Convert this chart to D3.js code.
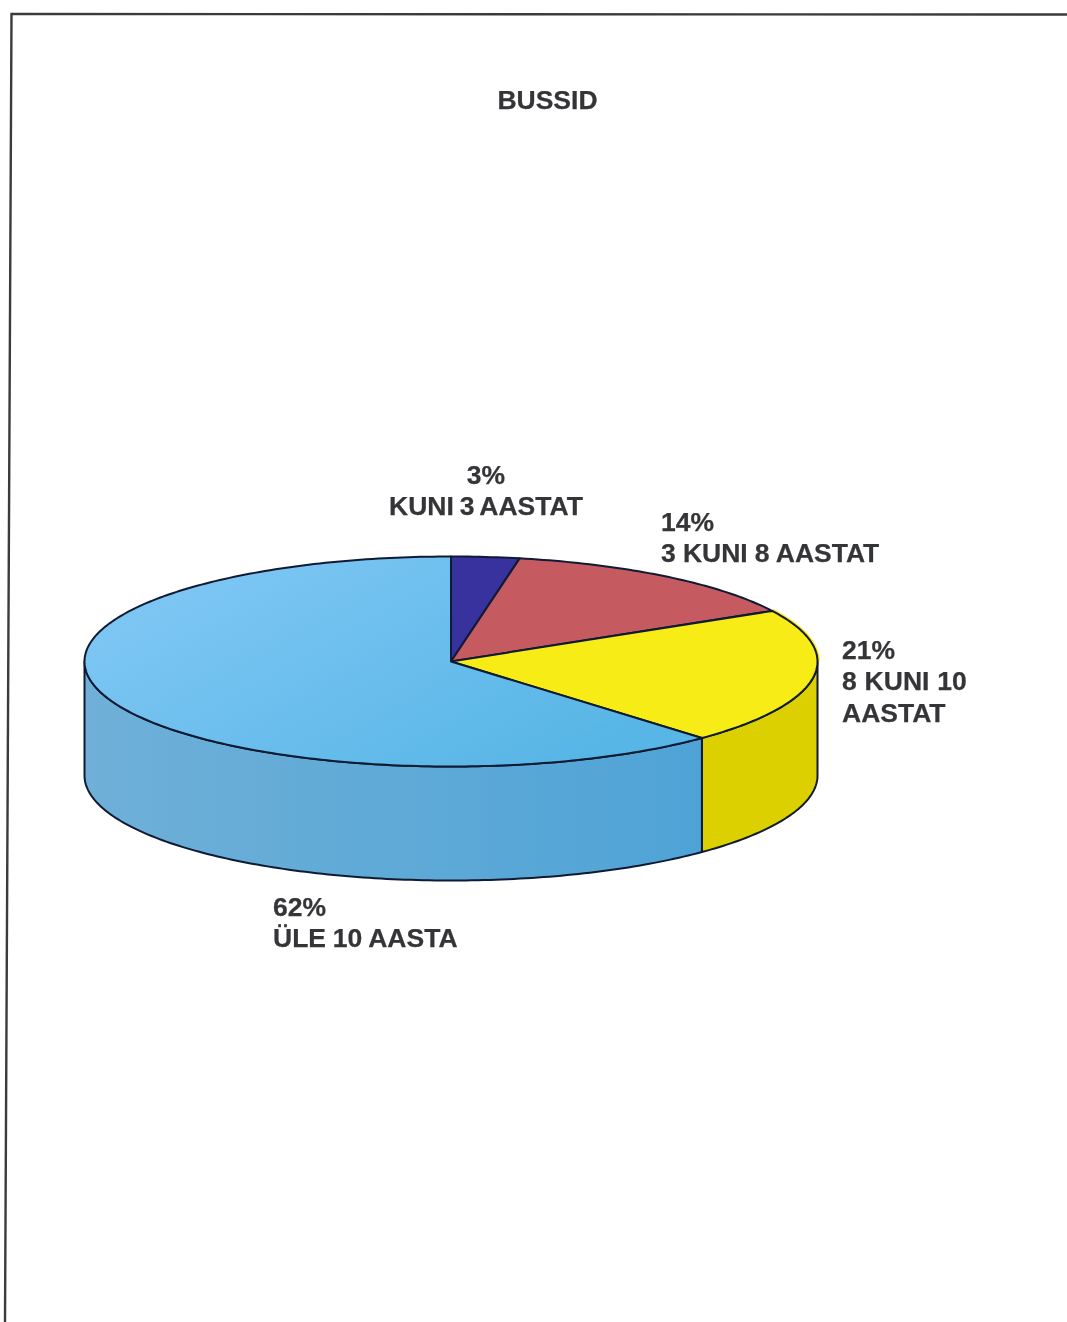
<!DOCTYPE html>
<html><head><meta charset="utf-8">
<script src="https://cdn.jsdelivr.net/npm/d3@7/dist/d3.min.js"></script>
<style>html,body{margin:0;padding:0;background:#fff}svg{display:block}text{font-family:"Liberation Sans",Arial,sans-serif;font-weight:bold;fill:#343638;stroke:#343638;stroke-width:0.25px;font-size:26.5px}</style>
</head><body><svg id="c" width="1067" height="1322"></svg>
<script>
const title = "BUSSID";
const categories = ["KUNI 3 AASTAT","3 KUNI 8 AASTAT","8 KUNI 10 AASTAT","ÜLE 10 AASTA"];
const values = [3,14,21,62];
const topColors = ["#38309f","#c55a60","#f7ec13","url(#topBlue)"];
const sideColors = ["#2c2680","#9e4a50","#dcd000","url(#sideBlue)"];
const labelLines = [["3%","KUNI 3 AASTAT"],["14%","3 KUNI 8 AASTAT"],["21%","8 KUNI 10","AASTAT"],["62%","ÜLE 10 AASTA"]];
const labelX = [486,661,842,273];
const labelY = [483.5,530.5,658.5,915.5];
const labelAnchor = ["middle","start","start","start"];
const labelWordSpacing = [-1.5,-0.2,0.5,-0.5];

const svg = d3.select("#c");
const defs = svg.append("defs");
const tb = defs.append("linearGradient").attr("id","topBlue").attr("x1",0).attr("x2",1).attr("y1",0).attr("y2",0.6);
tb.append("stop").attr("offset",0).attr("stop-color","#84c9f6");
tb.append("stop").attr("offset",1).attr("stop-color","#58b6e6");
const sb = defs.append("linearGradient").attr("id","sideBlue").attr("x1",0).attr("x2",1);
sb.append("stop").attr("offset",0).attr("stop-color","#6fb0d8");
sb.append("stop").attr("offset",1).attr("stop-color","#4fa3d6");
defs.append("filter").attr("id","soft").append("feGaussianBlur").attr("stdDeviation",0.45);

const root = svg.append("g").attr("filter","url(#soft)");
// scanned page border
root.append("path").attr("d",d3.line()([[5,1322],[11.5,14],[1067,14.5]])).attr("fill","none").attr("stroke","#3a3a3a").attr("stroke-width",2.4);

const cx=451, cy=661.5, rx=366.5, ry=105, depth=114;
const px = d3.scaleLinear().domain([-1,1]).range([cx-rx,cx+rx]);
const py = d3.scaleLinear().domain([-1,1]).range([cy+ry,cy-ry]);
const pt = (a,dz=0)=>[px(Math.sin(a)),py(Math.cos(a))+dz];
const arcPts = (a0,a1,dz=0)=>{const n=Math.max(2,Math.ceil((a1-a0)*60));return d3.range(n+1).map(i=>pt(a0+(a1-a0)*i/n,dz));};
const line = d3.line();
const arcs = d3.pie().sort(null)(values);
const stroke="#101a33", sw=2;

// side wall, front half only
arcs.forEach((d,i)=>{
  const a0=Math.max(d.startAngle,Math.PI/2), a1=Math.min(d.endAngle,3*Math.PI/2);
  if(a1<=a0) return;
  const pts=[...arcPts(a0,a1),...arcPts(a0,a1,depth).reverse()];
  root.append("path").attr("d",line(pts)+"Z").attr("fill",sideColors[i]).attr("stroke",stroke).attr("stroke-width",sw).attr("stroke-linejoin","round");
});
// yellow ink bleeding past the outline of the yellow slice
root.append("path").attr("d",line(arcPts(arcs[2].startAngle,Math.PI/2))).attr("fill","none").attr("stroke","#f7ec13").attr("stroke-width",4.5);
// top face
arcs.forEach((d,i)=>{
  const pts=[[cx,cy],...arcPts(d.startAngle,d.endAngle)];
  root.append("path").attr("d",line(pts)+"Z").attr("fill",topColors[i]).attr("stroke",stroke).attr("stroke-width",sw).attr("stroke-linejoin","round");
});

const tg = svg.append("g").attr("filter","url(#soft)");
tg.append("text").attr("x",547.5).attr("y",109).attr("text-anchor","middle").text(title);
labelLines.forEach((ls,i)=>{
  ls.forEach((s,j)=>{
    tg.append("text").attr("x",labelX[i]).attr("y",labelY[i]+j*31.5).attr("text-anchor",labelAnchor[i]).style("word-spacing",labelWordSpacing[i]+"px").text(s);
  });
});
</script></body></html>
